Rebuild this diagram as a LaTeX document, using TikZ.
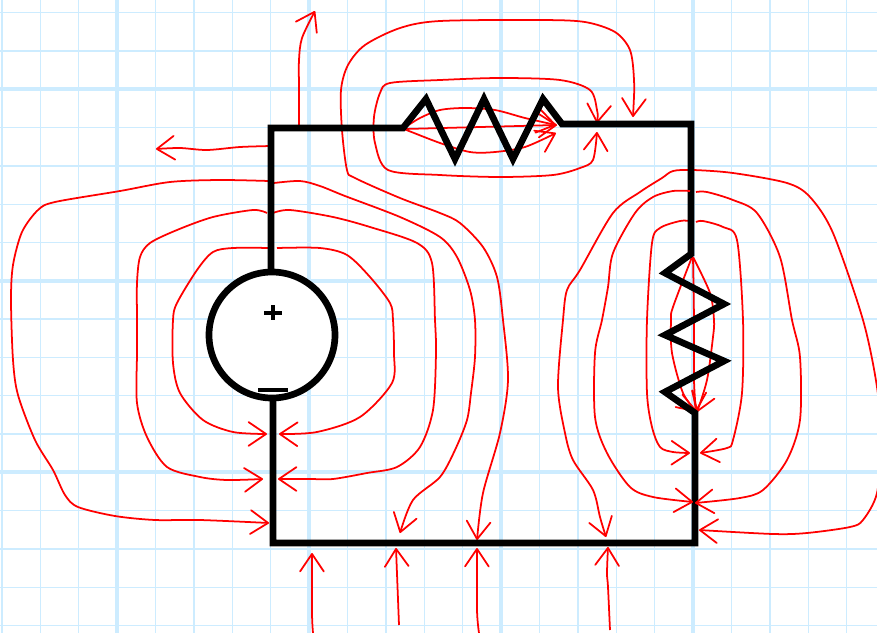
\documentclass[tikz,border=0pt]{standalone}
\usepackage{xcolor}
\usetikzlibrary{arrows.meta}
\definecolor{gridblue}{RGB}{205,236,255}
\def\rescale{0.02}
\tikzset{>={Straight Barb[length=10pt,width=13.5pt,round]}}
\tikzset{
  minorline/.style={line width=0.75pt, gridblue},
  majorline/.style={line width=2.2pt, gridblue},
  fieldline/.style={line width=1pt, red, line join=round},
  wireline/.style={line width=3.8pt, black, line join=miter},
}
\begin{document}
\begin{tikzpicture}[x=\rescale cm, y=-\rescale cm]
 \clip (0,0) rectangle (877,633);
 \fill[white] (0,0) rectangle (877,633);

% Grid paper
 \foreach \k in {0,1,...,22}{
    \draw[minorline] ({2+\k*38.4},0) -- ({2+\k*38.4},633);
 }
 \foreach \k in {0,1,...,16}{
    \draw[minorline] (0,{12.7+\k*38.3}) -- (877,{12.7+\k*38.3});
 }
 \foreach \k in {3,8,13,18}{
    \draw[majorline] ({2+\k*38.4},0) -- ({2+\k*38.4},633);
 }
 \foreach \k in {2,7,12}{
    \draw[majorline] (0,{12.7+\k*38.3}) -- (877,{12.7+\k*38.3});
 }

% Stray lines at the top left corner
 \draw[fieldline,->] plot[smooth] coordinates {(299,127) (299,90) (299,60) (302,38) (315,11)};
 \draw[fieldline,->] plot[smooth] coordinates {(271,146) (240,147) (207,150) (180,148) (156,149)};

% Loops round the source, left side
 \draw[fieldline,->] plot[smooth] coordinates {(269,181) (220,180) (170,182) (120,191) (55,202) (38,210) (22,232) (13,265) (11,300) (13,360) (18,395) (35,440) (53,470) (65,495) (78,507) (115,516) (155,520) (200,520) (269,523)};
 \draw[fieldline,->] plot[smooth] coordinates {(267,213) (253,210) (213,217) (177,230) (150,243) (140,257) (137,283) (137,320) (137,353) (137,403) (147,437) (167,467) (200,477) (227,480) (263,479)};
 \draw[fieldline,->] plot[smooth] coordinates {(270,248) (233,248) (213,252) (197,270) (177,303) (173,320) (173,363) (180,393) (203,420) (233,432) (267,434)};

% Loops round the source, right side
 \draw[fieldline,->] plot[smooth] coordinates {(274,183) (300,181) (320,186) (345,196) (400,217) (440,237) (457,257) (470,290) (475,320) (475,357) (471,393) (467,420) (455,450) (440,477) (413,500) (400,533)};
 \draw[fieldline,->] plot[smooth] coordinates {(273,213) (290,210) (333,217) (370,227) (417,243) (432,263) (435,320) (436,353) (433,410) (420,447) (397,467) (367,473) (333,479) (310,479) (278,479)};
 \draw[fieldline,->] plot[smooth] coordinates {(277,248) (320,248) (347,255) (370,277) (390,303) (393,320) (394,353) (392,383) (360,417) (317,432) (279,434)};

% Long loop over the top resistor
 \draw[fieldline,<->] plot[smooth] coordinates {(633,117) (634,80) (630,50) (615,32) (585,22) (540,20) (440,21) (400,28) (365,45) (348,65) (341,90) (342,130) (347,170) (355,178) (400,198) (440,213) (460,223) (483,247) (497,277) (503,320) (508,380) (500,433) (483,493) (477,540)};

% Top resistor
 \draw[fieldline,<->] plot[smooth] coordinates {(597,123) (597,110) (590,90) (560,80) (500,78) (440,80) (390,83) (380,93) (374,117) (375,143) (388,170) (440,175) (500,177) (553,175) (580,168) (593,160) (597,132)};
 \draw[fieldline,->] plot[smooth] coordinates {(404,128) (420,118) (440,110) (465,108) (495,110) (525,118) (556,125)};
 \draw[fieldline,->] (404,129) -- (557,125);
 \draw[fieldline,->] plot[smooth] coordinates {(404,129) (440,143) (470,152) (495,152) (525,147) (556,133)};

% Big loop round the right resistor
 \draw[fieldline,<->] plot[smooth] coordinates {(606,537) (600,517) (593,490) (573,460) (565,433) (558,387) (563,320) (567,290) (580,270) (613,213) (640,192) (662,178) (673,171) (693,170) (733,173) (787,183) (810,197) (833,233) (863,320) (877,387) (881,440) (877,493) (863,520) (850,527) (807,533) (773,534) (699,530)};

% Inner loops of the right resistor
 \draw[fieldline,->] plot[smooth] coordinates {(690,221) (680,221) (660,228) (652,243) (647,320) (647,393) (652,427) (660,447) (673,452) (690,453)};
 \draw[fieldline,->] plot[smooth] coordinates {(696,222) (703,221) (723,227) (737,240) (743,320) (742,393) (733,440) (727,448) (700,453)};
 \draw[fieldline,->] plot[smooth] coordinates {(692,257) (673,307) (671,320) (672,353) (683,393) (697,412)};
 \draw[fieldline,->] plot[smooth] coordinates {(693,257) (694,320) (694,380) (696,412)};
 \draw[fieldline,->] plot[smooth] coordinates {(693,257) (710,293) (714,320) (713,337) (707,380) (697,412)};

% Lines from below
 \draw[fieldline,->] plot[smooth] coordinates {(313,633) (312,613) (312,553)};
 \draw[fieldline,->] (399,625) -- (396,548);
 \draw[fieldline,->] plot[smooth] coordinates {(479,633) (477,610) (477,548)};
 \draw[fieldline,->] plot[smooth] coordinates {(610,630) (608,587) (607,573) (608,547)};

% Circuit
 \draw[wireline] (271,270) -- (271,128) -- (403,128) -- (426,99) -- (455,159) -- (484,99) -- (513,159) -- (543,99) -- (562,124) -- (691,124) -- (691,254) -- (665,273) -- (724,304) -- (665,335) -- (724,361) -- (665,392) -- (695,413) -- (695,543) -- (273,543) -- (273,400);
 \filldraw[wireline, fill=white] (272,335) circle[radius=63];
 \draw[line width=2.4pt, black] (264,313) -- (282,313);
 \draw[line width=2.4pt, black] (273,305) -- (273,320);
 \draw[line width=2.4pt, black] (258,390) -- (288,390);

% Middle loop sits over the wire
 \draw[fieldline,->] plot[smooth] coordinates {(690,191) (673,191) (653,197) (635,213) (613,253) (608,287) (602,320) (595,353) (595,417) (607,453) (630,487) (653,497) (693,502)};
 \draw[fieldline,->] plot[smooth] coordinates {(696,192) (707,192) (733,200) (757,213) (780,257) (792,320) (800,357) (800,420) (787,460) (763,490) (740,498) (695,503)};

\end{tikzpicture}
\end{document}
